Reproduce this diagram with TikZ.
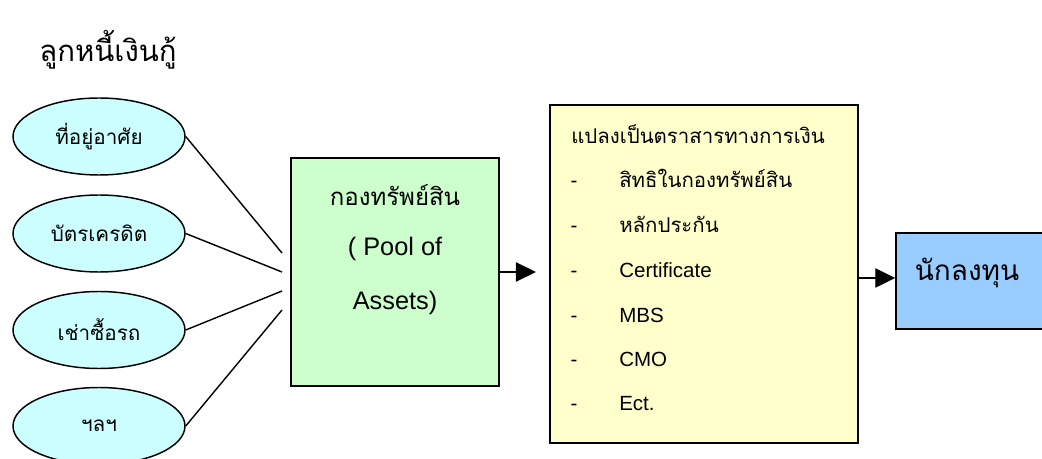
\documentclass[tikz,border=0pt]{standalone}
\usepackage{fontspec}
\setmainfont{Liberation Sans}
\newfontfamily\thaifont[Script=Thai]{Loma}
\usetikzlibrary{arrows.meta,shapes.geometric}

\newlength{\pxu}
\setlength{\pxu}{0.75pt}

\definecolor{ellfill}{HTML}{CCFFFF}
\definecolor{poolfill}{HTML}{CCFFCC}
\definecolor{secfill}{HTML}{FFFFCC}
\definecolor{invfill}{HTML}{99CCFF}

\tikzset{
  debtor/.style={ellipse, draw=black, line width=1.1pt, fill=ellfill,
    minimum width=172\pxu, minimum height=77\pxu, inner sep=0pt,
    font=\thaifont\fontsize{15.5}{18}\selectfont},
  boxnode/.style={draw=black, line width=1.1pt, inner sep=0pt},
  link/.style={line width=1.05pt},
  flow/.style={line width=1pt, -{Triangle[length=15pt,width=14.5pt]}},
  listth/.style={anchor=base west, inner sep=0pt, font=\thaifont\fontsize{15.3}{18}\selectfont},
  listen/.style={anchor=base west, inner sep=0pt, font=\fontsize{15.4}{18}\selectfont},
  listdash/.style={anchor=base, inner sep=0pt, font=\fontsize{15.4}{18}\selectfont},
}

\begin{document}
\begin{tikzpicture}[x=0.75pt, y=-0.75pt]
  \useasboundingbox (0,0) rectangle (1042,459);
  \fill[white] (0,0) rectangle (1042,459);

  % heading
  \node[font=\thaifont\fontsize{22}{26}\selectfont] (title) at (108,50) {ลูกหนี้เงินกู้};

  % kinds of loan receivables
  \node[debtor] (e1) at (99,136.5) {ที่อยู่อาศัย};
  \node[debtor] (e2) at (99,233.5) {บัตรเครดิต};
  \node[debtor] (e3) at (99,330) {เช่าซื้อรถ};
  \node[debtor] (e4) at (99,426) {ฯลฯ};

  % asset pool
  \node[boxnode, fill=poolfill, minimum width=208\pxu, minimum height=228\pxu]
    (pool) at (395,272) {};
  \node[font=\thaifont\fontsize{18}{22}\selectfont] (poolth) at (395,195) {กองทรัพย์สิน};
  \node[font=\fontsize{19}{22}\selectfont] (poolen1) at (395,249) {( Pool of};
  \node[font=\fontsize{19}{22}\selectfont] (poolen2) at (395,303) {Assets)};

  % converging lines into the pool
  \coordinate (j1) at (282,253);
  \coordinate (j2) at (282,272);
  \coordinate (j3) at (282,291);
  \coordinate (j4) at (282,310);
  \draw[link] (e1.east) -- (j1);
  \draw[link] (e2.east) -- (j2);
  \draw[link] (e3.east) -- (j3);
  \draw[link] (e4.east) -- (j4);

  % securities box
  \node[boxnode, fill=secfill, minimum width=308\pxu, minimum height=338\pxu]
    (sec) at (704,274) {};
  \node[listth] (sechead) at (571,144) {แปลงเป็นตราสารทางการเงิน};
  \node[listdash] (d1) at (574,188) {-};
  \node[listth] (it1) at (619,188) {สิทธิในกองทรัพย์สิน};
  \node[listdash] (d2) at (574,233) {-};
  \node[listth] (it2) at (619,233) {หลักประกัน};
  \node[listdash] (d3) at (574,278) {-};
  \node[listen] (it3) at (619,278) {Certificate};
  \node[listdash] (d4) at (574,323) {-};
  \node[listen] (it4) at (619,323) {MBS};
  \node[listdash] (d5) at (574,367) {-};
  \node[listen] (it5) at (619,367) {CMO};
  \node[listdash] (d6) at (574,411) {-};
  \node[listen] (it6) at (619,411) {Ect.};

  % investors
  \node[boxnode, fill=invfill, minimum width=150\pxu, minimum height=96\pxu]
    (inv) at (971,281) {};
  \node[font=\thaifont\fontsize{21}{25}\selectfont] (invtxt) at (967,273) {นักลงทุน};

  % flow arrows
  \draw[flow, shorten >=10pt] (pool.east) -- (pool.east -| sec.west);
  \draw[flow] ([yshift=2.25pt]inv.west -| sec.east) -- ([yshift=2.25pt]inv.west);
\end{tikzpicture}
\end{document}
